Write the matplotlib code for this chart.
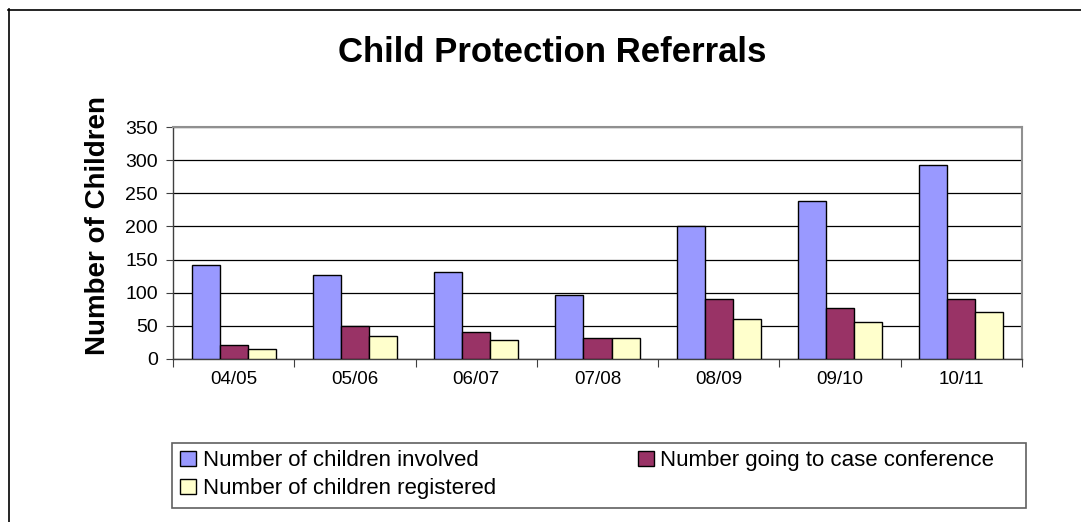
import numpy as np
import matplotlib
matplotlib.use("Agg")
import matplotlib.pyplot as plt
from matplotlib.lines import Line2D
from matplotlib.patches import Rectangle

plt.rcParams['font.family'] = ['Liberation Sans', 'DejaVu Sans']

# data
years = ["04/05", "05/06", "06/07", "07/08", "08/09", "09/10", "10/11"]
involved = [142, 126, 131, 97, 200, 239, 293]
case_conf = [20, 50, 40, 31, 91, 77, 91]
registered = [14, 34, 29, 31, 60, 55, 71]

labels = ["Number of children involved",
          "Number going to case conference",
          "Number of children registered"]
colors = ["#9999FF", "#993366", "#FFFFCC"]

W, H = 1081, 522
fig = plt.figure(figsize=(W / 100, H / 100), dpi=100)

# outer chart border (left and top only visible)
fig.add_artist(Line2D([8.5 / W, 8.5 / W], [0, 1 - 9 / H], color="black", lw=1.2))
fig.add_artist(Line2D([8 / W, 1], [1 - 9.5 / H, 1 - 9.5 / H], color="black", lw=1.2))

ax = fig.add_axes([173 / W, (H - 358.7) / H, 849 / W, 231.4 / H])

x = np.arange(len(years))
bw = 0.231
series = [involved, case_conf, registered]
bars = []
for i, vals in enumerate(series):
    b = ax.bar(x + (i - 1) * bw, vals, bw, color=colors[i], edgecolor="black",
               linewidth=1.0, label=labels[i], zorder=3)
    bars.append(b)

ax.set_xlim(-0.5, len(years) - 0.5)
ax.set_ylim(0, 350)
ax.set_yticks(np.arange(0, 351, 50))
ax.yaxis.grid(True, color="black", linewidth=0.9, zorder=0)

# category ticks between groups, labels centred
ax.set_xticks(np.arange(-0.5, len(years), 1.0))
ax.set_xticklabels([])
ax.set_xticks(x, minor=True)
ax.set_xticklabels(years, minor=True, fontsize=13.5)
ax.tick_params(axis="x", which="minor", length=0, pad=9)
ax.tick_params(axis="x", which="major", length=6, direction="out", color="#404040")
ax.tick_params(axis="y", length=5, direction="out", labelsize=14, pad=6, color="#404040")

for s in ["top", "right"]:
    ax.spines[s].set_color("#909090")
    ax.spines[s].set_linewidth(1.5)
for s in ["left", "bottom"]:
    ax.spines[s].set_color("#404040")
    ax.spines[s].set_linewidth(1.0)

ax.set_ylabel("Number of Children", fontsize=20, fontweight="bold")
ax.yaxis.set_label_coords(-0.073, 0.575)

fig.text(552 / W, 1 - 53 / H, "Child Protection Referrals", ha="center", va="center",
         fontsize=25, fontweight="bold")

# legend box drawn separately so the frame spans the chart width
fig.add_artist(Rectangle((172 / W, (H - 508) / H), 854 / W, 65 / H, transform=fig.transFigure,
                         facecolor="none", edgecolor="#606060", linewidth=1.2))

# legend filled row by row: reorder for matplotlib column-first layout
handles = [bars[0], bars[2], bars[1]]
leg_labels = [labels[0], labels[2], labels[1]]
leg = fig.legend(handles, leg_labels, ncol=2, loc="upper left",
                 bbox_to_anchor=(176 / W, 1 - 446 / H),
                 fontsize=16, frameon=False,
                 handlelength=0.7, handleheight=0.7, handletextpad=0.3,
                 labelspacing=0.3, columnspacing=6.4, borderaxespad=0, borderpad=0.2)

fig.savefig("out.png", dpi=100)
